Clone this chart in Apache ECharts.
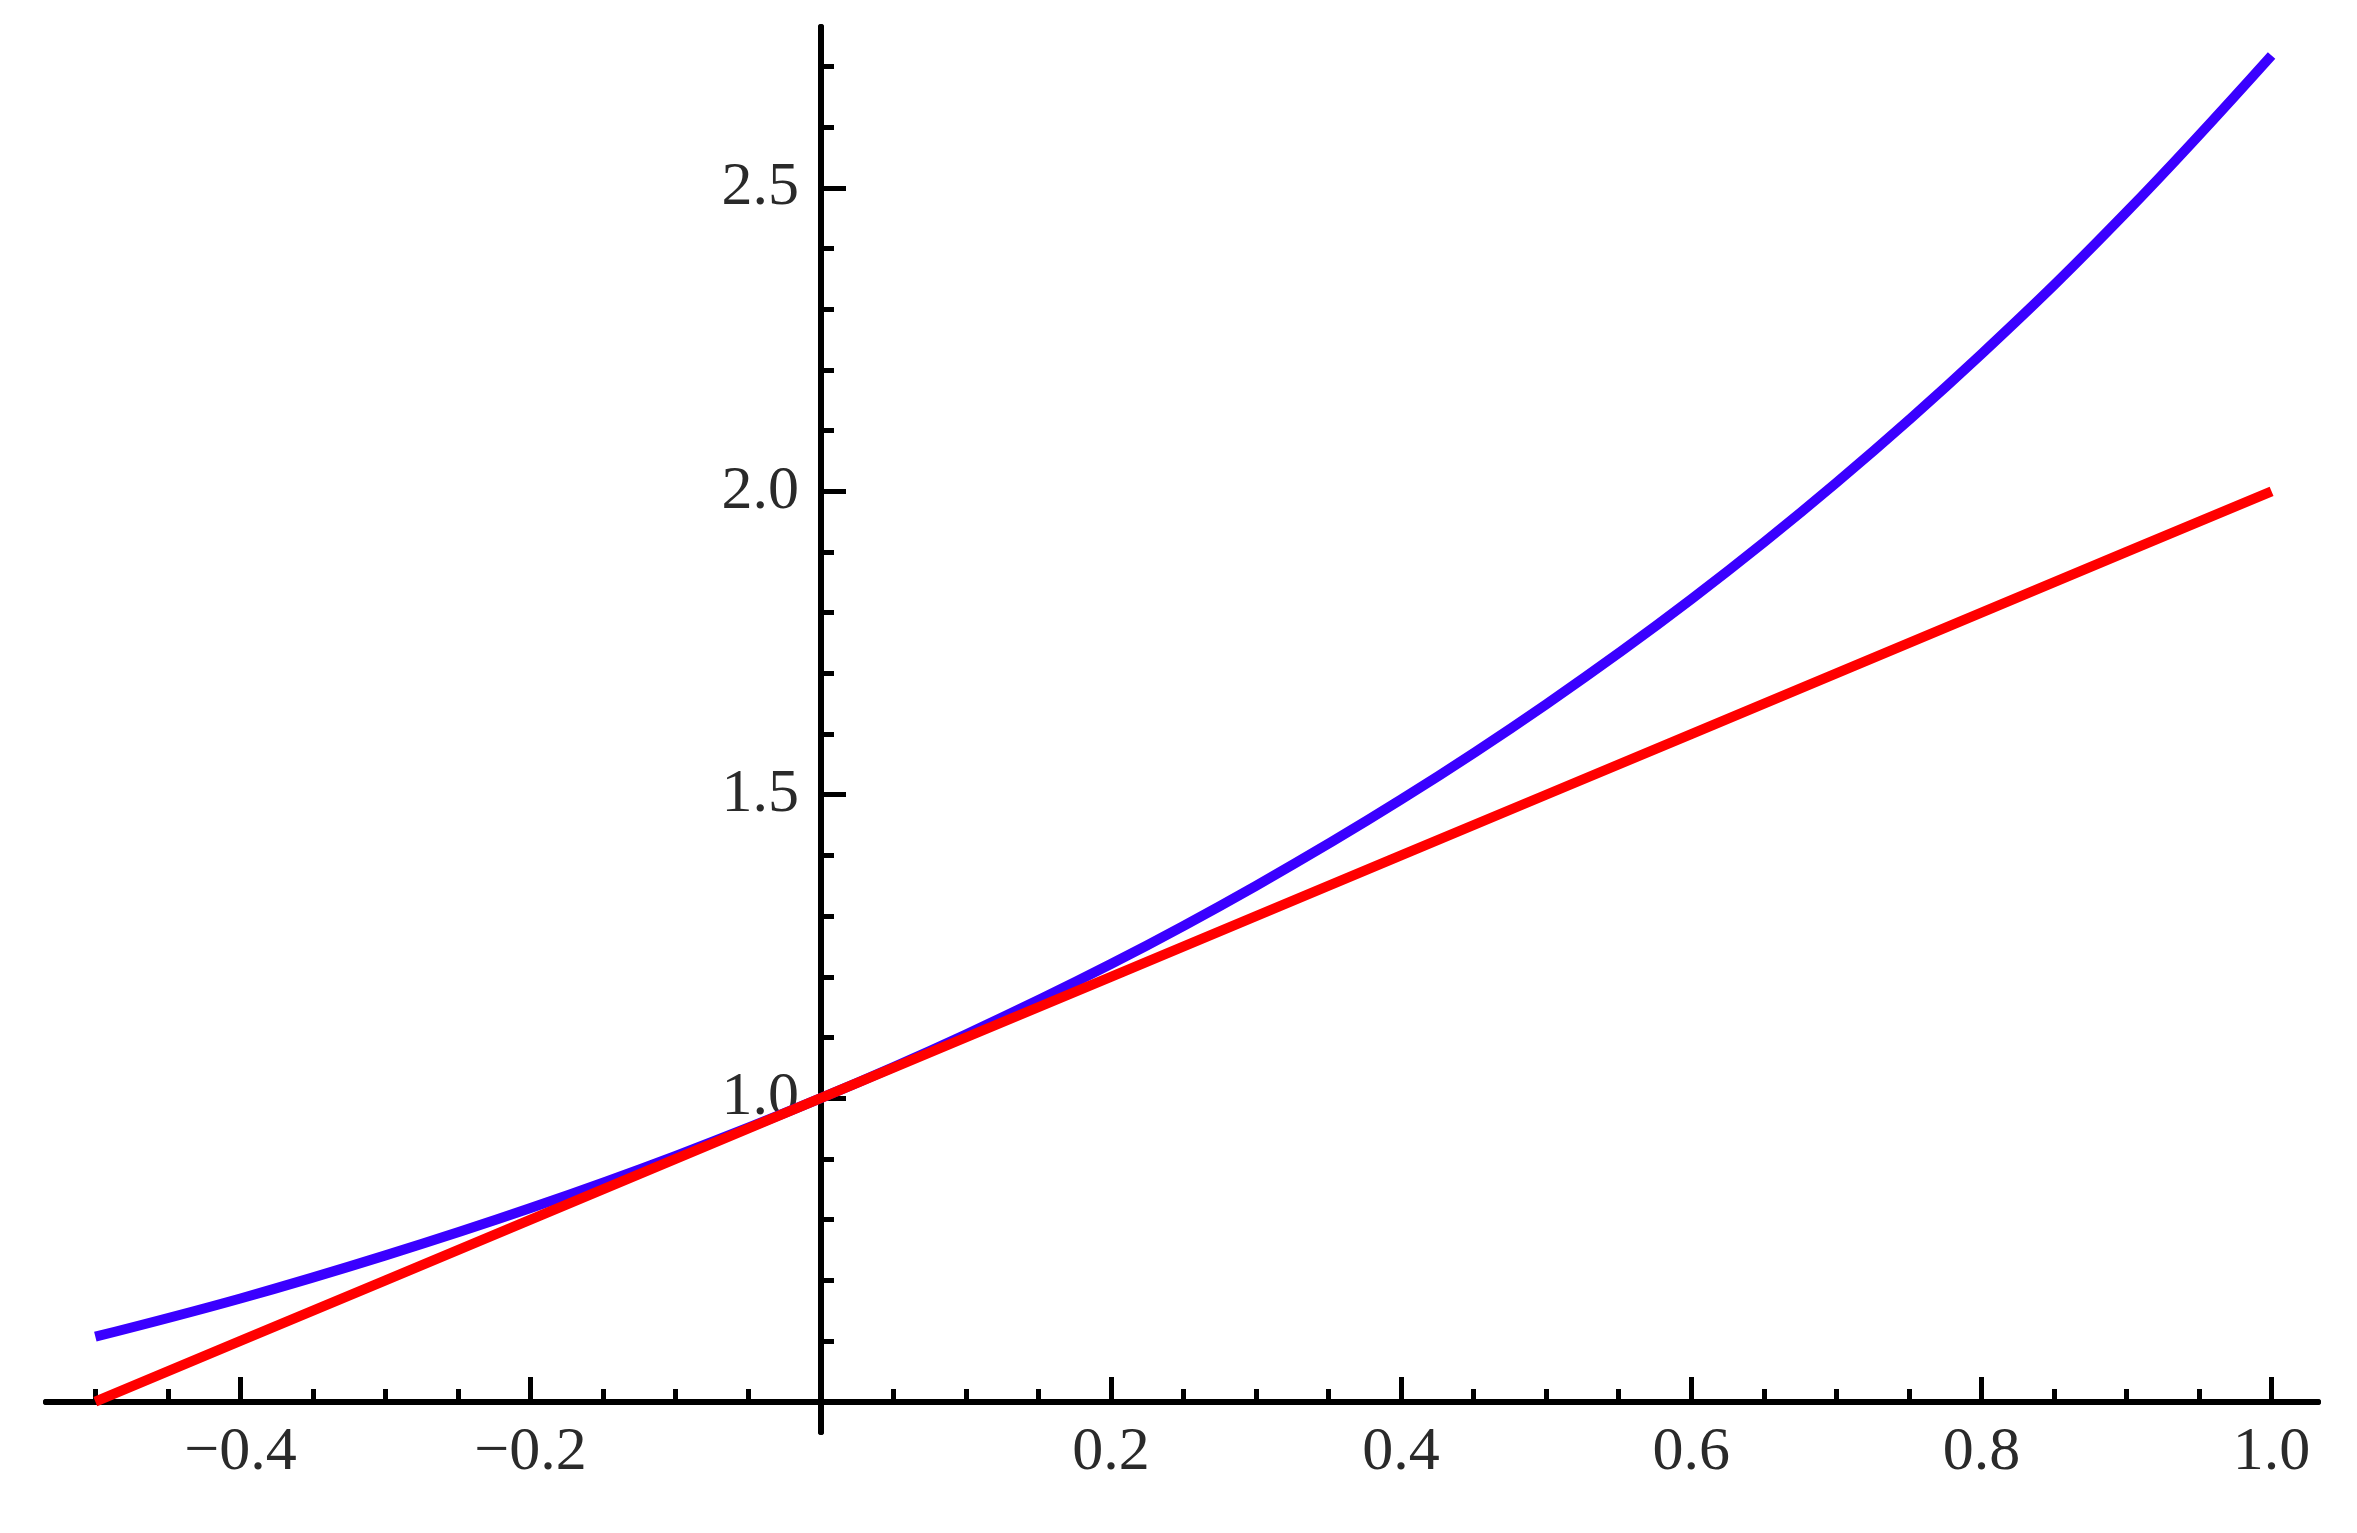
<!DOCTYPE html>
<html>
<head>
<meta charset="utf-8">
<script src="https://cdn.jsdelivr.net/npm/echarts@6/dist/echarts.min.js"></script>
<style>
  html, body { margin: 0; padding: 0; background: #fff; }
  #chart { width: 2357px; height: 1533px; }
</style>
</head>
<body>
<div id="chart"></div>
<script>
// sample points
const xValues = [-0.5, -0.4, -0.3, -0.2, -0.1, 0, 0.1, 0.2, 0.3, 0.4, 0.5, 0.6, 0.7, 0.8, 0.9, 1.0];
const blueValues = [0.607, 0.670, 0.741, 0.819, 0.905, 1.000, 1.105, 1.221, 1.350, 1.492, 1.649, 1.822, 2.014, 2.226, 2.460, 2.718];
const redValues = [0.5, 0.6, 0.7, 0.8, 0.9, 1.0, 1.1, 1.2, 1.3, 1.4, 1.5, 1.6, 1.7, 1.8, 1.9, 2.0];

// ticks / labels
const xMajorTicks = [-0.4, -0.2, 0.2, 0.4, 0.6, 0.8, 1.0];
const xMinorTicks = [-0.5, -0.45, -0.35, -0.3, -0.25, -0.15, -0.1, -0.05, 0.05, 0.1, 0.15,
  0.25, 0.3, 0.35, 0.45, 0.5, 0.55, 0.65, 0.7, 0.75, 0.85, 0.9, 0.95];
const yMajorTicks = [1.0, 1.5, 2.0, 2.5];
const yMinorTicks = [0.6, 0.7, 0.8, 0.9, 1.1, 1.2, 1.3, 1.4, 1.6, 1.7, 1.8, 1.9,
  2.1, 2.2, 2.3, 2.4, 2.6, 2.7];

const chart = echarts.init(document.getElementById('chart'));

const labelFont = {
  fontFamily: 'Liberation Serif',
  fontSize: 62,
  color: '#2a2a2a'
};
const xLine = { show: true, onZero: false, lineStyle: { color: '#000', width: 6 } };
const yLine = { show: true, onZero: false, lineStyle: { color: '#000', width: 6 } };
const tickStyle = { color: '#000', width: 5 };

// y axis sits at x = 0 : 775px in from the grid's left edge
const yOffset = -775;

// long minus like the original
const fmt = v => v.toFixed(1).replace('-', '\u2212');

let option = {
  animation: false,
  backgroundColor: '#fff',
  grid: { left: 46, right: 39, top: 27, bottom: 101, outerBoundsMode: 'none', containLabel: false },
  xAxis: [
    {
      type: 'value',
      min: -0.534,
      max: 1.032,
      position: 'bottom',
      offset: -30,
      axisLine: xLine,
      splitLine: { show: false },
      axisTick: { inside: true, length: 25, lineStyle: tickStyle, customValues: xMajorTicks },
      axisLabel: Object.assign({
        margin: 20,
        customValues: xMajorTicks,
        formatter: fmt
      }, labelFont)
    },
    {
      type: 'value',
      min: -0.534,
      max: 1.032,
      position: 'bottom',
      offset: -30,
      axisLine: xLine,
      splitLine: { show: false },
      axisTick: { inside: true, length: 13, lineStyle: tickStyle, customValues: xMinorTicks },
      axisLabel: { show: false }
    }
  ],
  yAxis: [
    {
      type: 'value',
      min: 0.45,
      max: 2.765,
      position: 'left',
      offset: yOffset,
      axisLine: yLine,
      splitLine: { show: false },
      axisTick: { inside: true, length: 25, lineStyle: tickStyle, customValues: yMajorTicks },
      axisLabel: Object.assign({
        margin: 22,
        padding: [0, 0, 10, 0],
        customValues: yMajorTicks,
        formatter: fmt
      }, labelFont)
    },
    {
      type: 'value',
      min: 0.45,
      max: 2.765,
      position: 'left',
      offset: yOffset,
      axisLine: yLine,
      splitLine: { show: false },
      axisTick: { inside: true, length: 13, lineStyle: tickStyle, customValues: yMinorTicks },
      axisLabel: { show: false }
    }
  ],
  series: [
    {
      name: 'exp',
      type: 'line',
      smooth: 0.4,
      showSymbol: false,
      lineStyle: { color: '#3a00ff', width: 10 },
      data: xValues.map((x, i) => [x, blueValues[i]])
    },
    {
      name: 'linear',
      type: 'line',
      showSymbol: false,
      lineStyle: { color: '#ff0000', width: 10 },
      data: xValues.map((x, i) => [x, redValues[i]])
    }
  ]
};
chart.setOption(option);
</script>
</body>
</html>
